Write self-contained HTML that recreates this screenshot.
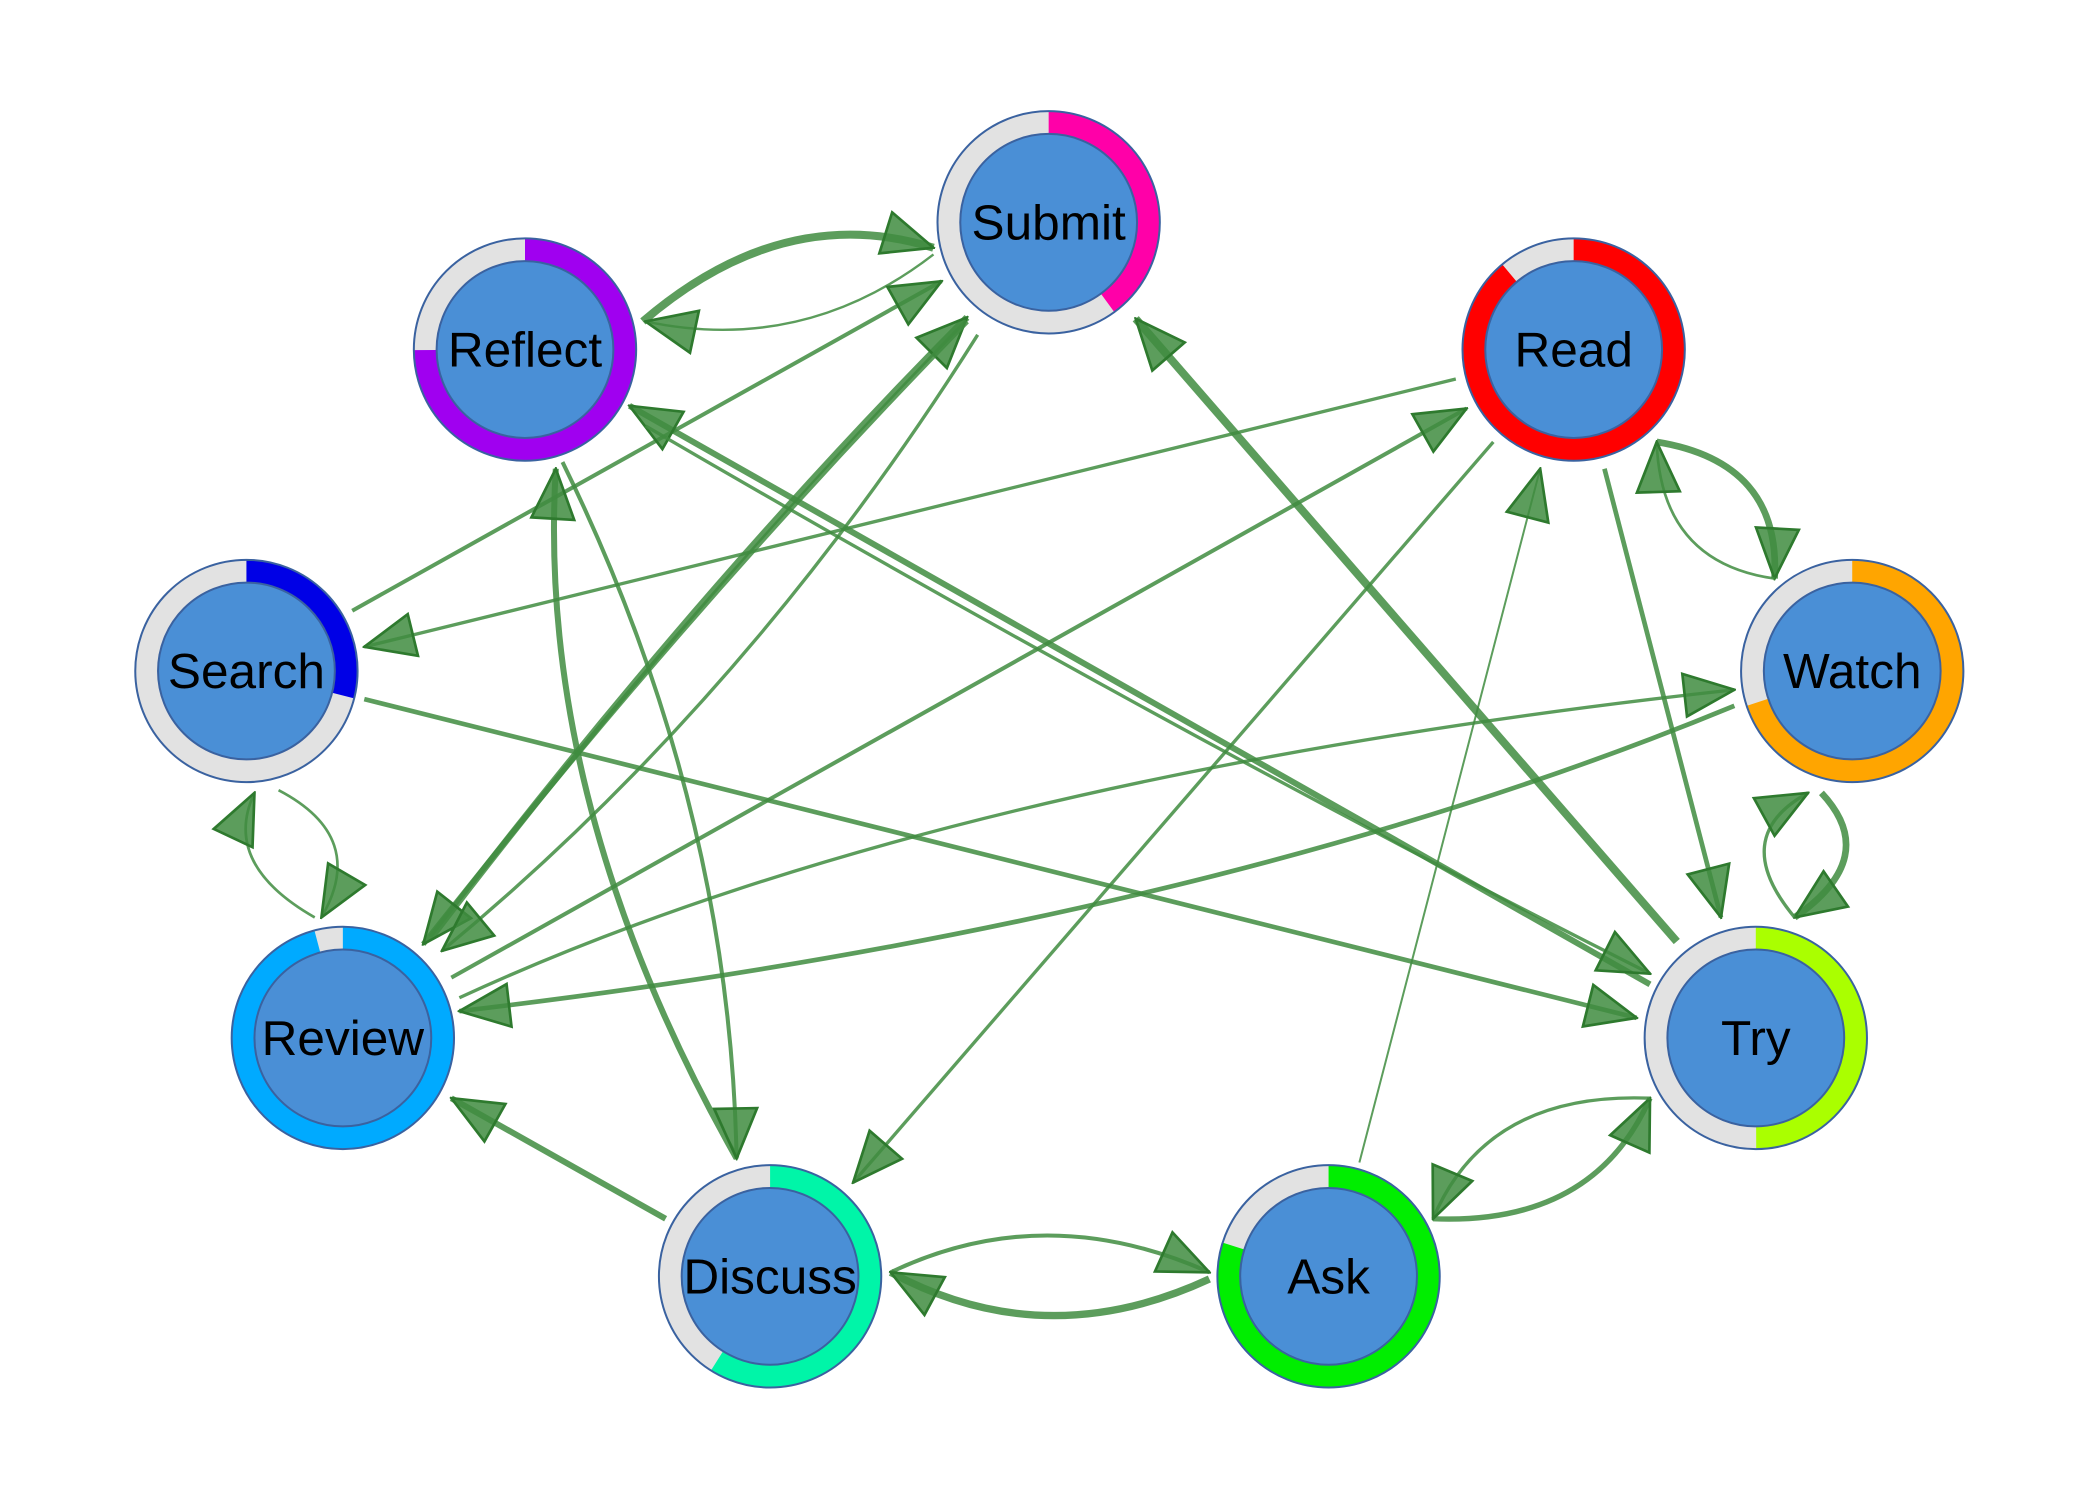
<!DOCTYPE html>
<html><head><meta charset="utf-8"><style>
html,body{margin:0;padding:0;background:#fff;}
svg{display:block;}
text{font-family:"Liberation Sans",Arial,sans-serif;font-size:37px;fill:#000;text-anchor:middle;dominant-baseline:central;}
.e{fill:none;stroke:#3f8c3f;stroke-opacity:0.85;marker-end:url(#ah);}
</style></head><body>
<svg width="2100" height="1500" viewBox="0 0 1568 1120" xmlns="http://www.w3.org/2000/svg">
<defs>
<marker id="ah" markerUnits="userSpaceOnUse" markerWidth="40" markerHeight="40" viewBox="0 0 30 26" refX="29" refY="13" orient="auto">
<path d="M1,1 L29,13 L1,25 Z" fill="#3f8c3f" fill-opacity="0.85" stroke="#2e7a2e" stroke-width="1.5"/>
</marker>
</defs>
<g>
<path class="e" stroke-width="6" d="M480,240 Q585,150 697,185"/>
<path class="e" stroke-width="1.8" d="M697,190 Q600,265 482,240"/>
<path class="e" stroke-width="3" d="M263,456 L703,210"/>
<path class="e" stroke-width="5" d="M322,700 Q520,440 722,237"/>
<path class="e" stroke-width="4" d="M722,240 Q515,452 316,705"/>
<path class="e" stroke-width="2.5" d="M730,250 Q560,520 330,710"/>
<path class="e" stroke-width="6" d="M1252,703 L848,238"/>
<path class="e" stroke-width="2.5" d="M1087,283 L272,483"/>
<path class="e" stroke-width="3" d="M337,730 L1095,305"/>
<path class="e" stroke-width="2.5" d="M1115,330 L637,883"/>
<path class="e" stroke-width="3.5" d="M1198,350 L1285,685"/>
<path class="e" stroke-width="5" d="M1237,330 Q1330,345 1325,432"/>
<path class="e" stroke-width="2" d="M1325,432 Q1240,420 1237,330"/>
<path class="e" stroke-width="3.5" d="M272,522 L1222,760"/>
<path class="e" stroke-width="2" d="M208,590 Q275,625 240,685"/>
<path class="e" stroke-width="2" d="M235,685 Q165,645 190,592"/>
<path class="e" stroke-width="4.5" d="M1232,735 L470,303"/>
<path class="e" stroke-width="2.5" d="M482,318 Q880,550 1232,727"/>
<path class="e" stroke-width="4.5" d="M550,865 Q400,600 415,350"/>
<path class="e" stroke-width="3" d="M420,345 Q545,600 550,865"/>
<path class="e" stroke-width="3.5" d="M1295,527 Q900,690 343,755"/>
<path class="e" stroke-width="2.5" d="M343,745 Q700,580 1295,515"/>
<path class="e" stroke-width="5" d="M1360,592 Q1405,640 1340,685"/>
<path class="e" stroke-width="2.5" d="M1340,685 Q1290,625 1350,592"/>
<path class="e" stroke-width="4.5" d="M497,910 L337,820"/>
<path class="e" stroke-width="3" d="M665,950 Q780,895 903,950"/>
<path class="e" stroke-width="5.5" d="M903,955 Q780,1012 665,950"/>
<path class="e" stroke-width="1.5" d="M1015,868 L1150,350"/>
<path class="e" stroke-width="4" d="M1070,910 Q1190,915 1232,820"/>
<path class="e" stroke-width="2.5" d="M1232,820 Q1110,815 1070,910"/>
</g>
<g id="nodes">
<g transform="translate(783,166)"><circle r="74.5" fill="none" stroke="#e2e2e2" stroke-width="17"/><circle r="74.5" fill="none" stroke="#ff00a8" stroke-width="17" pathLength="100" stroke-dasharray="40 100" transform="rotate(-90)"/><circle r="83" fill="none" stroke="#3a62a0" stroke-width="1.5"/><circle r="66" fill="#4a8fd6" stroke="#3a62a0" stroke-width="1.5"/><text>Submit</text></g>
<g transform="translate(392,261)"><circle r="74.5" fill="none" stroke="#e2e2e2" stroke-width="17"/><circle r="74.5" fill="none" stroke="#a000f0" stroke-width="17" pathLength="100" stroke-dasharray="75 100" transform="rotate(-90)"/><circle r="83" fill="none" stroke="#3a62a0" stroke-width="1.5"/><circle r="66" fill="#4a8fd6" stroke="#3a62a0" stroke-width="1.5"/><text>Reflect</text></g>
<g transform="translate(1175,261)"><circle r="74.5" fill="none" stroke="#e2e2e2" stroke-width="17"/><circle r="74.5" fill="none" stroke="#ff0000" stroke-width="17" pathLength="100" stroke-dasharray="89 100" transform="rotate(-90)"/><circle r="83" fill="none" stroke="#3a62a0" stroke-width="1.5"/><circle r="66" fill="#4a8fd6" stroke="#3a62a0" stroke-width="1.5"/><text>Read</text></g>
<g transform="translate(184,501)"><circle r="74.5" fill="none" stroke="#e2e2e2" stroke-width="17"/><circle r="74.5" fill="none" stroke="#0000e6" stroke-width="17" pathLength="100" stroke-dasharray="29 100" transform="rotate(-90)"/><circle r="83" fill="none" stroke="#3a62a0" stroke-width="1.5"/><circle r="66" fill="#4a8fd6" stroke="#3a62a0" stroke-width="1.5"/><text>Search</text></g>
<g transform="translate(1383,501)"><circle r="74.5" fill="none" stroke="#e2e2e2" stroke-width="17"/><circle r="74.5" fill="none" stroke="#ffa500" stroke-width="17" pathLength="100" stroke-dasharray="70 100" transform="rotate(-90)"/><circle r="83" fill="none" stroke="#3a62a0" stroke-width="1.5"/><circle r="66" fill="#4a8fd6" stroke="#3a62a0" stroke-width="1.5"/><text>Watch</text></g>
<g transform="translate(256,775)"><circle r="74.5" fill="none" stroke="#e2e2e2" stroke-width="17"/><circle r="74.5" fill="none" stroke="#00aaff" stroke-width="17" pathLength="100" stroke-dasharray="96 100" transform="rotate(-90)"/><circle r="83" fill="none" stroke="#3a62a0" stroke-width="1.5"/><circle r="66" fill="#4a8fd6" stroke="#3a62a0" stroke-width="1.5"/><text>Review</text></g>
<g transform="translate(1311,775)"><circle r="74.5" fill="none" stroke="#e2e2e2" stroke-width="17"/><circle r="74.5" fill="none" stroke="#aaff00" stroke-width="17" pathLength="100" stroke-dasharray="50 100" transform="rotate(-90)"/><circle r="83" fill="none" stroke="#3a62a0" stroke-width="1.5"/><circle r="66" fill="#4a8fd6" stroke="#3a62a0" stroke-width="1.5"/><text>Try</text></g>
<g transform="translate(575,953)"><circle r="74.5" fill="none" stroke="#e2e2e2" stroke-width="17"/><circle r="74.5" fill="none" stroke="#00f5a8" stroke-width="17" pathLength="100" stroke-dasharray="59 100" transform="rotate(-90)"/><circle r="83" fill="none" stroke="#3a62a0" stroke-width="1.5"/><circle r="66" fill="#4a8fd6" stroke="#3a62a0" stroke-width="1.5"/><text>Discuss</text></g>
<g transform="translate(992,953)"><circle r="74.5" fill="none" stroke="#e2e2e2" stroke-width="17"/><circle r="74.5" fill="none" stroke="#00ee00" stroke-width="17" pathLength="100" stroke-dasharray="80 100" transform="rotate(-90)"/><circle r="83" fill="none" stroke="#3a62a0" stroke-width="1.5"/><circle r="66" fill="#4a8fd6" stroke="#3a62a0" stroke-width="1.5"/><text>Ask</text></g>
</g>
</svg>
</body></html>
